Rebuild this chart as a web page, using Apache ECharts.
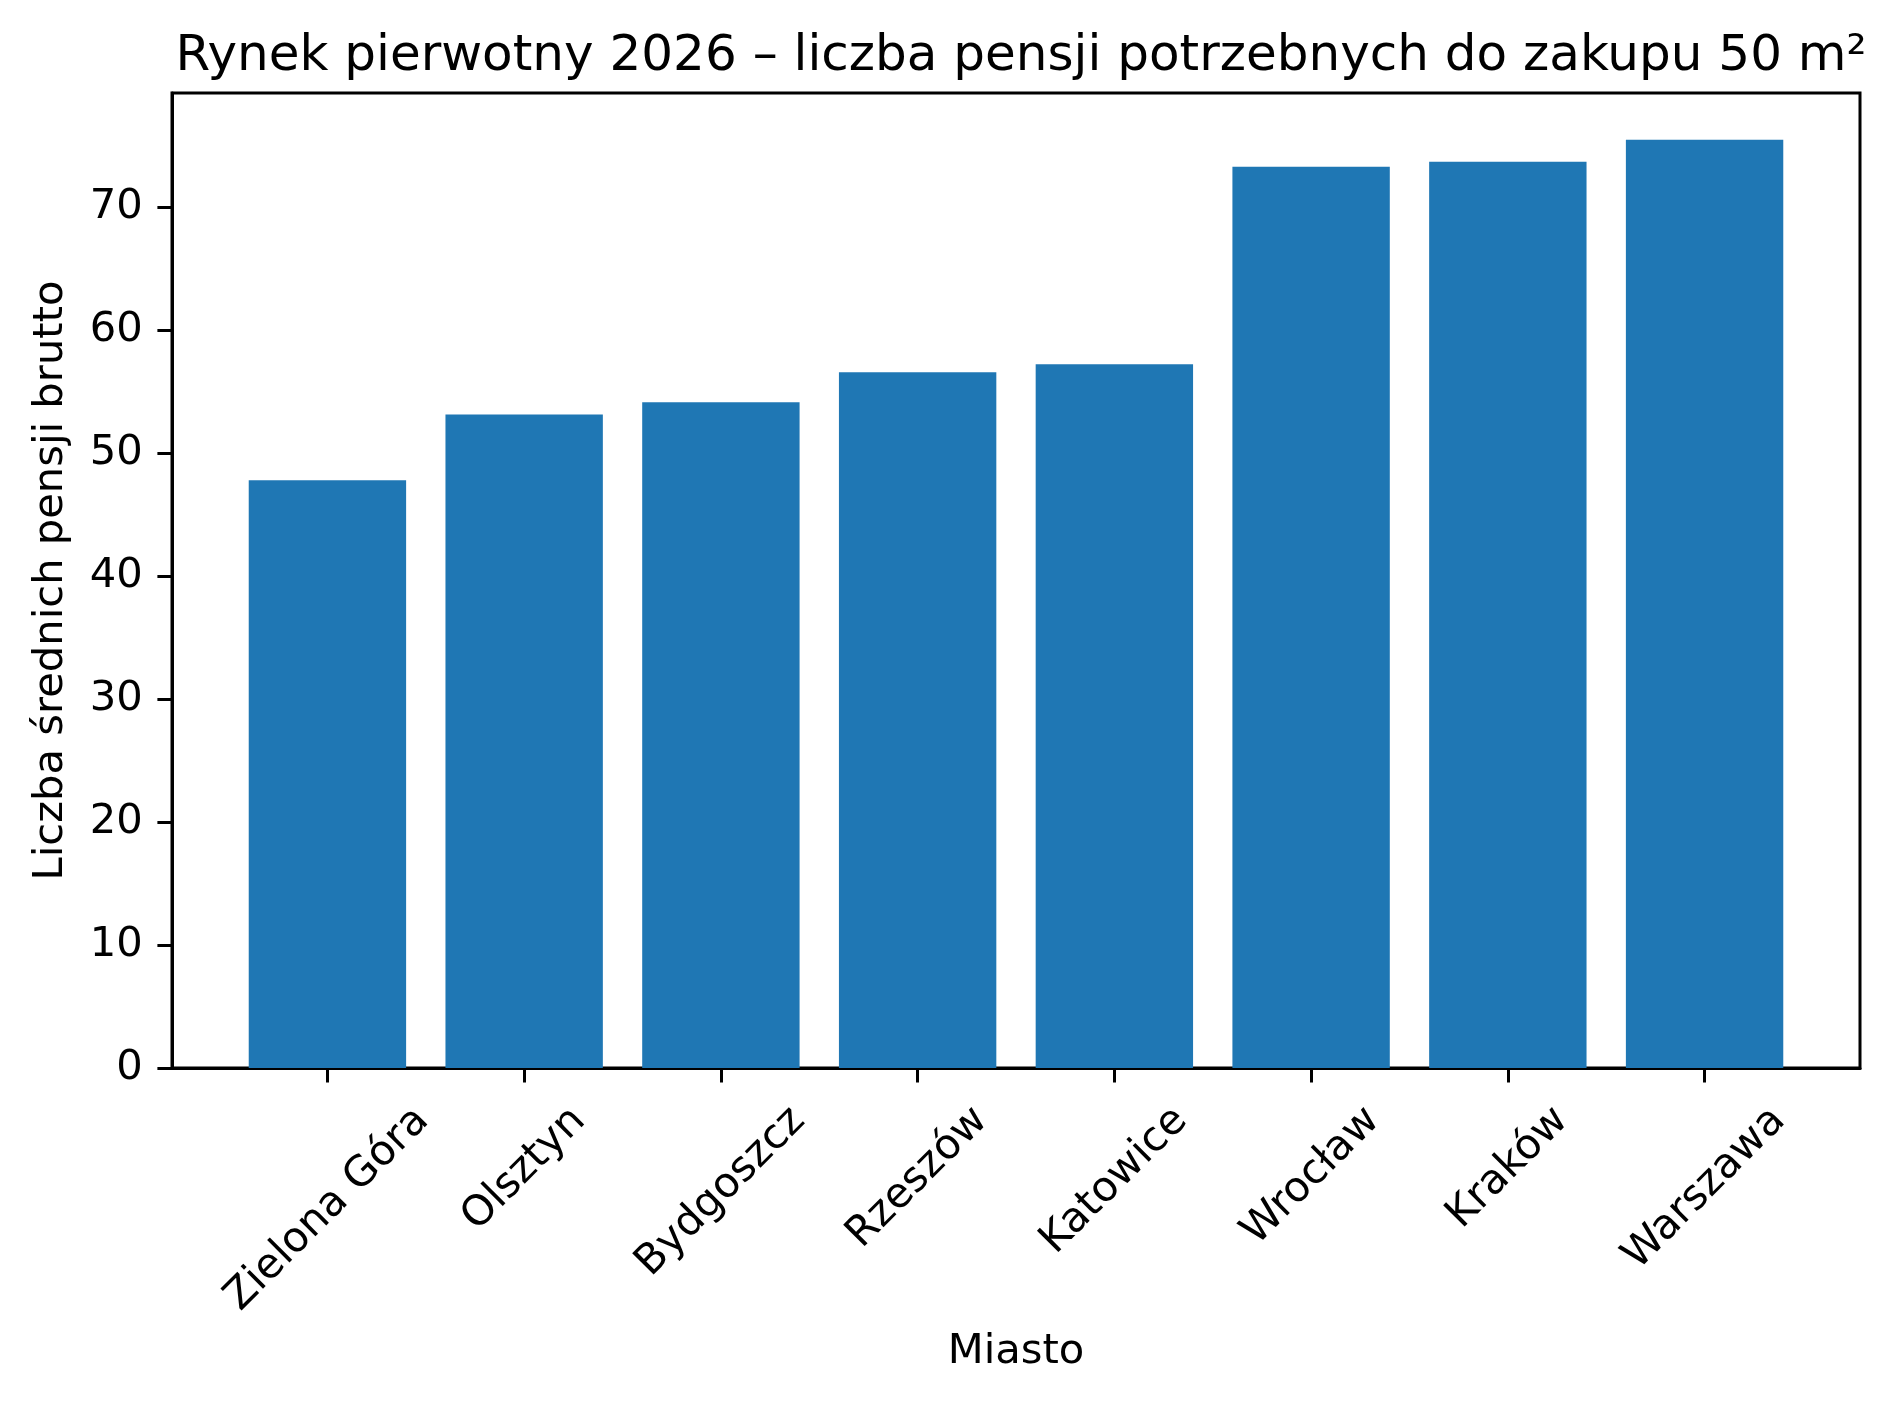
<!DOCTYPE html>
<html>
<head>
<meta charset="utf-8">
<script src="https://cdn.jsdelivr.net/npm/echarts@6/dist/echarts.min.js"></script>
<style>
  html, body { margin: 0; padding: 0; background: #fff; }
  #chart { width: 1892px; height: 1405px; }
</style>
</head>
<body>
<div id="chart"></div>
<script>
const titleText = 'Rynek pierwotny 2026 – liczba pensji potrzebnych do zakupu 50 m²';
const xName = 'Miasto';
const yName = 'Liczba średnich pensji brutto';
const categories = ['Zielona Góra', 'Olsztyn', 'Bydgoszcz', 'Rzeszów', 'Katowice', 'Wrocław', 'Kraków', 'Warszawa'];
const values = [47.8, 53.16, 54.14, 56.58, 57.23, 73.31, 73.71, 75.49];
const yTicks = [0, 10, 20, 30, 40, 50, 60, 70];

const FONT = '"DejaVu Sans", "Liberation Sans", sans-serif';
const FS = 41.67;
const TICK_LEN = 14.6;
const PAD = 14.6;

const measureCtx = document.createElement('canvas').getContext('2d');
measureCtx.font = FS + 'px ' + FONT;
function textWidth(t) { return measureCtx.measureText(t).width; }

const xIdx = categories.map((c, i) => i);
const barData = values.map((v, i) => [i, v]);
const labelData = categories.map((c, i) => [i, 0]);

const chart = echarts.init(document.getElementById('chart'), null, { renderer: 'canvas' });
const option = {
  backgroundColor: '#ffffff',
  animation: false,
  title: {
    text: titleText,
    left: 1016,
    textAlign: 'center',
    top: 27,
    textStyle: { fontFamily: FONT, fontSize: 50, fontWeight: 'normal', color: '#000' }
  },
  grid: {
    left: 172, right: 32, top: 93, bottom: 337,
    show: true, borderColor: '#000', borderWidth: 3,
    containLabel: false, outerBoundsMode: 'none'
  },
  xAxis: {
    type: 'value',
    min: -0.79, max: 7.79,
    name: xName,
    nameLocation: 'middle',
    nameGap: 263,
    nameTextStyle: { fontFamily: FONT, fontSize: FS, color: '#000' },
    axisLine: { show: true, onZero: false, lineStyle: { color: '#000', width: 3 } },
    axisTick: { show: true, inside: false, length: TICK_LEN, lineStyle: { color: '#000', width: 3 }, customValues: xIdx },
    axisLabel: { show: false },
    splitLine: { show: false }
  },
  yAxis: {
    type: 'value',
    min: 0, max: 79.3,
    name: yName,
    nameLocation: 'middle',
    nameGap: 100,
    nameTextStyle: { fontFamily: FONT, fontSize: FS, color: '#000' },
    axisLine: { show: true, onZero: false, lineStyle: { color: '#000', width: 3 } },
    axisTick: { show: true, inside: false, length: TICK_LEN, lineStyle: { color: '#000', width: 3 }, customValues: yTicks },
    axisLabel: { show: true, margin: TICK_LEN + PAD, fontFamily: FONT, fontSize: FS, color: '#000', customValues: yTicks },
    splitLine: { show: false }
  },
  series: [
    {
      type: 'bar',
      data: barData,
      barWidth: '80%',
      itemStyle: { color: '#1f77b4' }
    },
    {
      type: 'custom',
      clip: false,
      silent: true,
      data: labelData,
      renderItem: function (params, api) {
        const p = api.coord([api.value(0), api.value(1)]);
        const text = categories[params.dataIndex];
        const L = textWidth(text);
        const H = FS * 1.164;
        const half = (L + H) * Math.SQRT1_2 / 2;
        return {
          type: 'text',
          x: p[0],
          y: p[1] + TICK_LEN + PAD + half,
          rotation: Math.PI / 4,
          style: {
            text: text,
            font: FS + 'px ' + FONT,
            fill: '#000',
            align: 'center',
            verticalAlign: 'middle'
          }
        };
      }
    }
  ]
};
chart.setOption(option);
</script>
</body>
</html>
